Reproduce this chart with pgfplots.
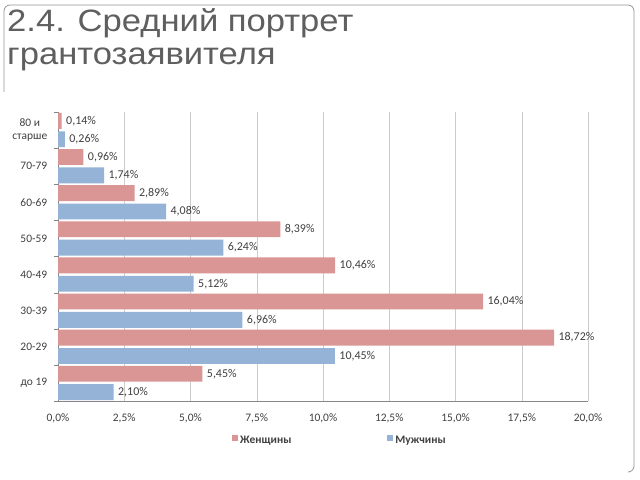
\documentclass[border=0pt]{standalone}
\usepackage{fontspec}
\setmainfont{Carlito}
\newfontfamily\titlefont[FakeStretch=1.12]{Liberation Sans}
\usepackage{pgfplots}
\pgfplotsset{compat=1.18}
\definecolor{women}{RGB}{217,150,148}
\definecolor{men}{RGB}{149,179,215}
\definecolor{txt}{RGB}{64,64,64}
\definecolor{titlegray}{RGB}{95,95,95}
\definecolor{framegray}{RGB}{150,150,150}
\definecolor{axisgray}{RGB}{134,134,134}

\begin{document}
\begin{tikzpicture}
\useasboundingbox[fill=white] (0,0) rectangle (640bp,480bp);
% slide frame, partly covered by the chart picture
\draw[framegray, line width=0.8bp, rounded corners=6bp] (4bp,8bp) rectangle (634bp,475bp);
\fill[white] (0,0) rectangle (628bp,388bp);
\node[anchor=base west, inner sep=0, text=titlegray, font=\titlefont\fontsize{31}{33}\selectfont] at (7bp,448bp) {2.4. Средний портрет};
\node[anchor=base west, inner sep=0, text=titlegray, font=\titlefont\fontsize{31}{33}\selectfont] at (7bp,415bp) {грантозаявителя};

\begin{axis}[
    at={(58bp,79bp)}, anchor=south west,
    scale only axis,
    width=530bp, height=289bp,
    xbar,
    bar width=0.44,
    xmin=0, xmax=20,
    ymin=-0.5, ymax=7.5,
    axis x line=bottom, axis y line=left,
    axis line style={-, draw=axisgray},
    xtick={0,2.5,...,20},
    xticklabel={\pgfmathprintnumber[fixed,fixed zerofill,precision=1,use comma]{\tick}\%},
    /pgf/number format/assume math mode=true,
    xticklabel style={font=\fontsize{11.5}{13}\selectfont, text=txt, yshift=-5bp},
    xmajorgrids,
    major grid style={draw=gray!40},
    major x tick style={draw=none},
    ytick={0,...,7},
    yticklabels={до 19,20-29,30-39,40-49,50-59,60-69,70-79,{80 и\\старше}},
    yticklabel style={font=\fontsize{11.5}{13.5}\selectfont, text=txt, align=center, xshift=-3bp},
    major y tick style={draw=none},
    minor ytick={-0.5,0.5,...,7.5},
    minor y tick style={draw=axisgray},
    minor tick length=4bp,
    tick align=outside,
    point meta=x,
    nodes near coords={\pgfmathprintnumber[fixed,fixed zerofill,precision=2,use comma]{\pgfplotspointmeta}\%},
    nodes near coords style={font=\fontsize{12}{14}\selectfont, text=txt, xshift=1bp},
    clip=false,
    legend columns=2,
    legend style={at={(axis description cs:0.532,-0.138)}, anchor=center, draw=none, fill=none,
        font=\bfseries\fontsize{11.5}{13}\selectfont, text=txt,
        /tikz/every even column/.append style={column sep=94bp}},
    legend image code/.code={\fill[#1] (0bp,-0.5bp) rectangle (6bp,5.5bp);},
]
\addplot[fill=women, draw=none, bar shift=0.255] coordinates {
    (5.45,0) (18.72,1) (16.04,2) (10.46,3) (8.39,4) (2.89,5) (0.96,6) (0.14,7)};
\addlegendentry{Женщины}
\addplot[fill=men, draw=none, bar shift=-0.255] coordinates {
    (2.10,0) (10.45,1) (6.96,2) (5.12,3) (6.24,4) (4.08,5) (1.74,6) (0.26,7)};
\addlegendentry{Мужчины}
\end{axis}
\end{tikzpicture}
\end{document}
